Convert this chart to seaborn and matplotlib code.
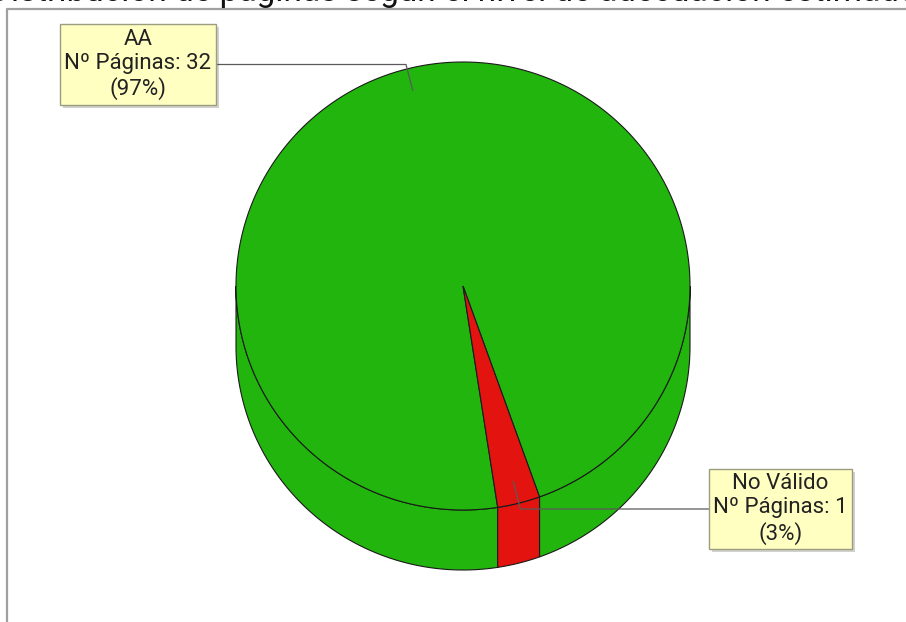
import numpy as np
import matplotlib
matplotlib.use('Agg')
import matplotlib.pyplot as plt
import matplotlib.patheffects as pe
import seaborn as sns

# datos
titulo = 'Distribución de páginas según el nivel de adecuación estimado'
niveles = ['AA', 'No Válido']
paginas = [32, 1]
colores = ['#22B50E', '#E3140F']

sns.set_theme(style='white')
plt.rcParams['font.family'] = ['Roboto', 'DejaVu Sans']

fig = plt.figure(figsize=(9.06, 6.22), dpi=100)
ax = fig.add_axes([0, 0, 1, 1])
ax.set_xlim(0, 906)
ax.set_ylim(622, 0)
ax.axis('off')

# geometria del pastel 3D (pixeles)
cx, cy, rx, ry, prof = 463, 286, 227, 224, 60
inicio = -70.3


def punto(t, f=1.0, dz=0):
    r = np.radians(t)
    return cx + f * rx * np.cos(r), cy - f * ry * np.sin(r) + dz


total = sum(paginas)
angulos = []
a = inicio
for v in paginas:
    b = a + 360 * v / total
    angulos.append((a, b))
    a = b

# laterales (mitad inferior visible)
for (a, b), col in zip(angulos, colores):
    for k in (-1, 0, 1):
        lo = max(a, 180 + 360 * k)
        hi = min(b, 360 + 360 * k)
        if hi <= lo:
            continue
        t = np.linspace(lo, hi, 200)
        xs, ys = punto(t)
        xb, yb = punto(t[::-1], dz=prof)
        ax.fill(np.r_[xs, xb], np.r_[ys, yb], fc=col, ec='#1a1a1a', lw=0.8)

# cara superior
for (a, b), col in zip(angulos, colores):
    t = np.linspace(a, b, 400)
    xs, ys = punto(t)
    ax.fill(np.r_[cx, xs], np.r_[cy, ys], fc=col, ec='#1a1a1a', lw=0.8)

# etiquetas
cajas = [(138, 64.5), (780.5, 509)]
for (a, b), nom, v, (bx, by) in zip(angulos, niveles, paginas, cajas):
    m = (a + b) / 2
    x0, y0 = punto(m, 0.9)
    dx, dy = x0 - cx, y0 - cy
    s = (by - cy) / dy
    xe = cx + dx * s
    ax.plot([x0, xe, bx], [y0, by, by], color='#5a5a5a', lw=0.9, zorder=3)
    txt = ax.text(bx, by, f'{nom}\nNº Páginas: {v}\n({100 * v / total:.0f}%)',
                  ha='center', va='center', fontsize=16, linespacing=1.2,
                  color='#222222', zorder=5,
                  bbox=dict(boxstyle='square,pad=0.2', fc='#FFFFC2', ec='#9c9c80', lw=1))
    txt.get_bbox_patch().set_path_effects(
        [pe.SimplePatchShadow(offset=(2, -2), alpha=0.25), pe.Normal()])

# marco
ax.plot([7, 7, 906], [622, 9, 9], color='#a0a0a0', lw=1.6, zorder=1)

fig.text(0.5, 1 - 0.6 / 622, titulo, ha='center', va='baseline', fontsize=24, color='#111111')

plt.savefig('out.png', dpi=100)
